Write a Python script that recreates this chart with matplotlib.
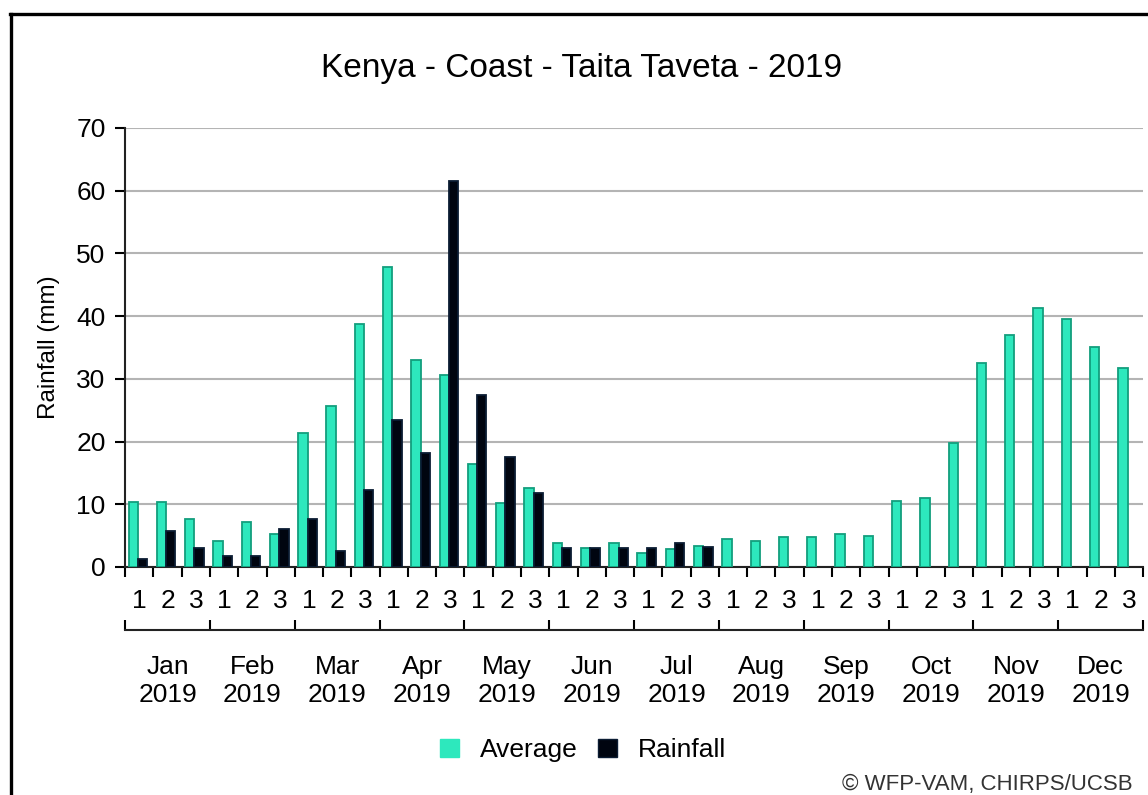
import numpy as np
import matplotlib
matplotlib.use('Agg')
import matplotlib.pyplot as plt
import matplotlib.patches as patches
from matplotlib.lines import Line2D

plt.rcParams['font.family'] = ['Liberation Sans', 'DejaVu Sans']

title = 'Kenya - Coast - Taita Taveta - 2019'
months = ['Jan', 'Feb', 'Mar', 'Apr', 'May', 'Jun',
          'Jul', 'Aug', 'Sep', 'Oct', 'Nov', 'Dec']
year = '2019'
dekads = ['1', '2', '3']

# dekadal average (long term) and 2019 rainfall, mm
average = [10.3, 10.3, 7.6, 4.2, 7.1, 5.3, 21.3, 25.7, 38.8,
           47.9, 33.0, 30.6, 16.4, 10.2, 12.6, 3.8, 3.1, 3.8,
           2.3, 2.8, 3.4, 4.5, 4.1, 4.8, 4.8, 5.2, 4.9,
           10.6, 11.0, 19.7, 32.5, 37.0, 41.3, 39.6, 35.0, 31.8]
rainfall = [1.2, 5.7, 3.1, 1.7, 1.7, 6.0, 7.6, 2.5, 12.2,
            23.5, 18.2, 61.6, 27.4, 17.5, 11.8, 3.0, 3.1, 3.0,
            3.1, 3.8, 3.2]

avg_face = '#2de8bd'
avg_edge = '#129e7d'
rain_face = '#000510'
rain_edge = '#0b1c33'

fig = plt.figure(figsize=(11.48, 7.95), dpi=100)
ax = fig.add_axes([0.109, 0.2868, 0.8867, 0.5522])

n = len(average)
x = np.arange(n)
ax.bar(x + 0.12, average, width=0.33, align='edge', color=avg_face,
       edgecolor=avg_edge, linewidth=1.3, zorder=3)
xr = np.arange(len(rainfall))
ax.bar(xr + 0.45, rainfall, width=0.33, align='edge', color=rain_face,
       edgecolor=rain_edge, linewidth=1.3, zorder=3)

ax.set_xlim(0, n)
ax.set_ylim(0, 70)
ax.set_yticks(np.arange(0, 71, 10))
ax.yaxis.grid(True, color='#b4b4b4', linewidth=1.5, zorder=0)
ax.set_axisbelow(True)

for s in ['top', 'right']:
    ax.spines[s].set_visible(False)
for s in ['left', 'bottom']:
    ax.spines[s].set_linewidth(1.5)
    ax.spines[s].set_color('#222222')

ax.tick_params(axis='y', direction='out', length=7, width=1.5,
               labelsize=19, pad=7)
ax.set_xticks(np.arange(0, n + 1))
ax.set_xticklabels([])
ax.set_xticks(x + 0.5, minor=True)
ax.set_xticklabels(dekads * len(months), minor=True)
ax.tick_params(axis='x', which='major', direction='out', length=7, width=1.5)
ax.tick_params(axis='x', which='minor', length=0, labelsize=19, pad=16)

ax.set_ylabel('Rainfall (mm)', fontsize=17.5, labelpad=12)

# month axis below the dekad labels
sec = ax.secondary_xaxis(-0.1435)
sec.spines['bottom'].set_linewidth(1.5)
sec.spines['bottom'].set_color('#222222')
sec.set_xticks(np.arange(0, n + 1, 3))
sec.set_xticklabels([])
sec.set_xticks(np.arange(1.5, n, 3), minor=True)
sec.set_xticklabels(['{}\n{}'.format(m, year) for m in months], minor=True)
sec.tick_params(axis='x', which='major', direction='in', length=7, width=1.5)
sec.tick_params(axis='x', which='minor', length=0, labelsize=19, pad=18)

fig.text(0.507, 0.914, title, ha='center', va='center', fontsize=24)

handles = [patches.Patch(facecolor=avg_face, edgecolor=avg_face),
           patches.Patch(facecolor=rain_face, edgecolor=rain_edge)]
fig.legend(handles, ['Average', 'Rainfall'], loc='center',
           bbox_to_anchor=(0.508, 0.056), ncol=2, frameon=False,
           fontsize=19, handlelength=0.7, handleheight=0.7,
           handletextpad=0.8, columnspacing=0.8)

fig.text(0.987, 0.013, '\u00a9 WFP-VAM, CHIRPS/UCSB', ha='right',
         va='center', fontsize=16, color='#333333')

# frame around the chart (top and left edges visible)
fig.add_artist(Line2D([0.0095, 0.0095], [0.0, 0.9825], color='black',
                      linewidth=2.4, transform=fig.transFigure))
fig.add_artist(Line2D([0.0085, 1.0], [0.9825, 0.9825], color='black',
                      linewidth=2.4, transform=fig.transFigure))

fig.savefig('out.png', dpi=100)
